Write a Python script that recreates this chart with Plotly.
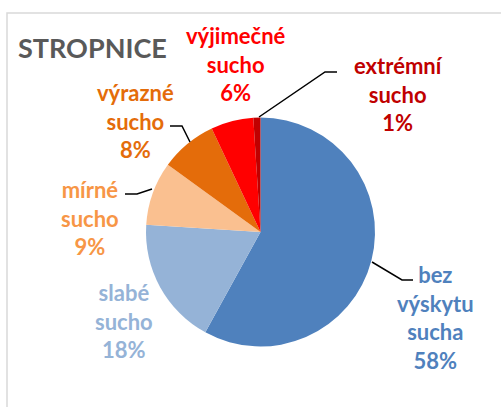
import plotly.graph_objects as go

# Data
categories = ["bez výskytu sucha", "slabé sucho", "mírné sucho", "výrazné sucho", "výjimečné sucho", "extrémní sucho"]
label_lines = ["bez<br>výskytu<br>sucha", "slabé<br>sucho", "mírné<br>sucho", "výrazné<br>sucho", "výjimečné<br>sucho", "extrémní<br>sucho"]
values = [58, 18, 9, 8, 6, 1]
slice_colors = ["#4F81BD", "#95B3D7", "#FAC090", "#E46C0A", "#FF0000", "#C00000"]
label_colors = ["#4F81BD", "#95B3D7", "#F79646", "#E46C0A", "#FF0000", "#C00000"]
title_text = "STROPNICE"

W, H = 501, 407
cx, cy, r = 260.5, 232, 114.5

def px(x):
    return x / W

def py(y):
    return 1 - y / H

fig = go.Figure(go.Pie(
    labels=categories,
    values=values,
    sort=False,
    direction="clockwise",
    rotation=0,
    marker=dict(colors=slice_colors, line=dict(width=0)),
    textinfo="none",
    hoverinfo="label+percent",
    showlegend=False,
    domain=dict(x=[px(cx - r), px(cx + r)], y=[py(cy + r), py(cy - r)]),
))

# label positions (pixels, centre of text block)
label_pos = [(435, 317), (124, 321), (90, 218), (135, 121), (236, 64), (398, 94)]
total = sum(values)
annotations = []
for txt, v, col, (x, y) in zip(label_lines, values, label_colors, label_pos):
    annotations.append(dict(
        x=px(x), y=py(y), xref="paper", yref="paper",
        text=f"<b>{txt}<br>{round(v / total * 100)}%</b>",
        showarrow=False, xanchor="center", yanchor="middle", align="center",
        font=dict(family="Lato", size=22, color=col),
    ))
annotations.append(dict(
    x=px(16), y=py(48), xref="paper", yref="paper", text=f"<b>{title_text}</b>",
    showarrow=False, xanchor="left", yanchor="middle",
    font=dict(family="Lato", size=27, color="#595959"),
))

# leader lines (pixels)
leaders = [
    [(372, 262), (402, 280), (413, 280)],
    [(152, 189), (137, 194), (125, 194)],
    [(190, 142), (182, 126), (170, 126)],
    [(259, 117), (325, 72), (337, 72)],
]
shapes = []
for pts in leaders:
    path = "M " + " L ".join(f"{px(x)},{py(y)}" for x, y in pts)
    shapes.append(dict(type="path", path=path, xref="paper", yref="paper",
                       line=dict(color="black", width=1.5)))
shapes.append(dict(type="rect", xref="paper", yref="paper",
                   x0=px(7), y0=py(13), x1=px(520), y1=py(430),
                   line=dict(color="#D9D9D9", width=1.5)))

fig.update_layout(
    width=W, height=H,
    margin=dict(l=0, r=0, t=0, b=0),
    paper_bgcolor="white", plot_bgcolor="white",
    annotations=annotations, shapes=shapes,
)

fig.write_html("out.html", config={"displayModeBar": False},
               post_script="document.body.style.margin='0';document.body.style.overflow='hidden';")
